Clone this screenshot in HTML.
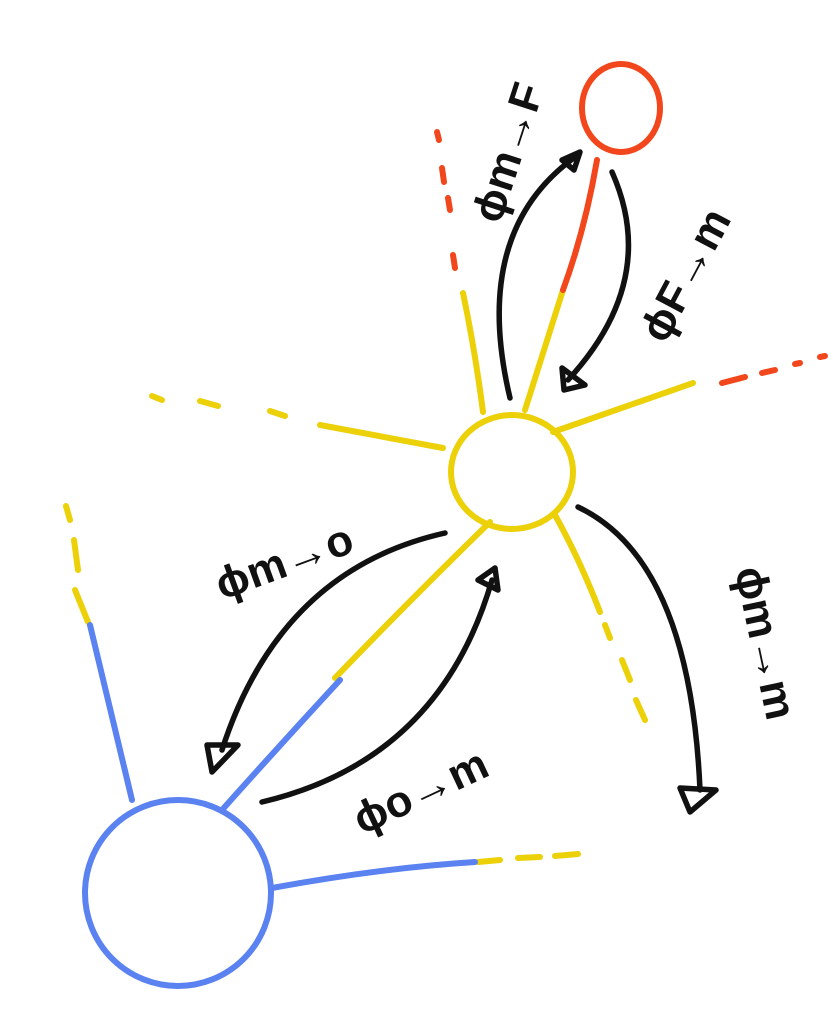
<!DOCTYPE html>
<html><head><meta charset="utf-8"><style>
html,body{margin:0;padding:0;background:#fff;}
svg{display:block;}
text{font-family:"Liberation Sans",sans-serif;font-weight:bold;fill:#111;}
</style></head><body>
<svg width="833" height="1018" viewBox="0 0 833 1018">
<g fill="none" stroke-linecap="round" stroke-width="6">
 <!-- yellow spokes -->
 <g stroke="#ecd008">
  <path d="M563,290 L525,410"/>
  <path d="M463,293 Q475,350 483,412"/>
  <path d="M152,396 L162,400"/><path d="M200,401 L218,406"/><path d="M270,411 L285,416"/>
  <path d="M320,425 L443,448"/>
  <path d="M553,432 L693,383"/>
  <path d="M555,515 Q580,560 600,612"/><path d="M605,625 L610,638"/><path d="M622,660 L630,680"/><path d="M636,700 L645,720"/>
  <path d="M490,522 Q410,600 335,678"/>
  <path d="M66,506 L70,520"/><path d="M74,540 L78,570"/><path d="M75,590 L88,622"/>
  <path d="M478,862 L500,860"/><path d="M518,858 L540,857"/><path d="M555,856 L578,854"/>
 </g>
 <!-- red -->
 <g stroke="#f2461c">
  <path d="M597,160 Q585,230 563,290"/>
  <path d="M437,132 L439,140"/><path d="M442,168 L444,182"/><path d="M448,198 L450,210"/><path d="M453,255 L455,268"/>
  <path d="M722,383 L745,377"/><path d="M762,373 L775,370"/><path d="M795,364 L800,363"/><path d="M820,357 L825,356"/>
 </g>
 <!-- blue -->
 <g stroke="#5a82f0">
  <path d="M340,680 Q280,745 222,810"/>
  <path d="M90,625 Q110,710 132,800"/>
  <path d="M272,888 Q380,868 475,862"/>
 </g>
 <!-- nodes -->
 <ellipse cx="621" cy="108" rx="39" ry="44" stroke="#f2461c"/>
 <ellipse cx="512" cy="472" rx="61" ry="57" stroke="#ecd008"/>
 <ellipse cx="178" cy="893" rx="93" ry="93" stroke="#5a82f0"/>
 <!-- black arrows -->
 <g stroke="#111" stroke-width="5.5" stroke-linejoin="round">
  <path d="M510,398 Q470,230 578,155"/>
  <path d="M562,160 L580,152 L574,170 Z"/>
  <path d="M612,172 Q660,280 568,380"/>
  <path d="M562,368 L564,390 L585,385 Z"/>
  <path d="M445,533 Q280,570 222,750"/>
  <path d="M207,745 L212,772 L238,745 Z"/>
  <path d="M262,802 Q440,760 492,580"/>
  <path d="M478,580 L495,568 L498,590 Z"/>
  <path d="M578,507 Q690,560 700,790"/>
  <path d="M680,788 L690,812 L716,790 Z"/>
 </g>
</g>
<text x="0" y="0" font-size="44" transform="translate(500,225) rotate(-72)">ϕm→F</text>
<text x="0" y="0" font-size="44" transform="translate(665,345) rotate(-62)">ϕF→m</text>
<text x="0" y="0" font-size="44" transform="translate(222,600) rotate(-20)">ϕm→o</text>
<text x="0" y="0" font-size="44" transform="translate(362,835) rotate(-25)">ϕo→m</text>
<text x="0" y="0" font-size="44" transform="translate(735,570) rotate(78)">ϕm→m</text>
</svg>
</body></html>
